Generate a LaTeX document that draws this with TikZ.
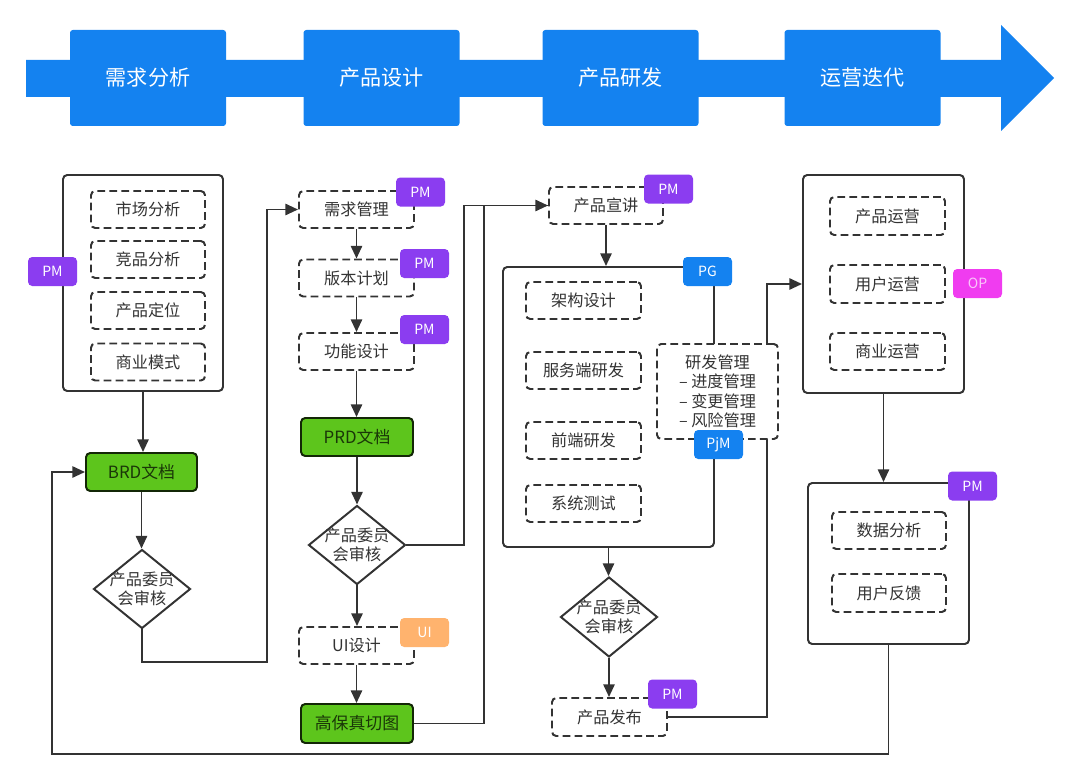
\documentclass[tikz,border=0pt]{standalone}
\usepackage{fontspec}
\setmainfont{Noto Sans CJK SC}
\usetikzlibrary{shapes.geometric,arrows.meta}

\definecolor{flowblue}{HTML}{1482F0}
\definecolor{tagpurple}{HTML}{8B3DF0}
\definecolor{tagpink}{HTML}{F03CF0}
\definecolor{tagorange}{HTML}{FFB36E}
\definecolor{docgreen}{HTML}{5DC51C}
\definecolor{linegray}{HTML}{333333}

\tikzset{
  px/.style 2 args={minimum width=#1*0.025cm, minimum height=#2*0.025cm},
  stage/.style={fill=flowblue, rounded corners=2pt, inner sep=0pt, text=white, font=\fontsize{15}{18}\selectfont},
  group/.style={draw=linegray, line width=1.4pt, rounded corners=3pt, fill=white, inner sep=0pt},
  task/.style={draw=linegray, line width=1.4pt, dash pattern=on 5.5pt off 3pt, rounded corners=3pt, fill=white, inner sep=0pt, text=linegray, font=\fontsize{11.5}{13}\selectfont},
  doc/.style={draw=black!80!docgreen, line width=1.4pt, fill=docgreen, rounded corners=3pt, inner sep=0pt, text=black!72!docgreen, font=\fontsize{12}{14}\selectfont},
  check/.style={diamond, draw=linegray, line width=1.4pt, fill=white, inner sep=0pt, px={97}{79}},
  checktext/.style={align=center, text=linegray, inner sep=0pt, font=\fontsize{11.5}{13.5}\selectfont},
  role/.style={rounded corners=3pt, inner sep=0pt, text=white, font=\fontsize{10}{12}\selectfont, px={49}{29}},
  arr/.style={draw=linegray, line width=1.4pt, -{Triangle[length=9pt,width=8pt]}},
  link/.style={draw=linegray, line width=1.4pt},
}

\begin{document}
\begin{tikzpicture}[x=0.025cm, y=-0.025cm]
\useasboundingbox (0,0) rectangle (1080,782);

% stage banner
\fill[flowblue] (26,60) -- (1001,60) -- (1001,25) -- (1054,78) -- (1001,131) -- (1001,97) -- (26,97) -- cycle;
\node[stage, px={156}{96}] (s1) at (148,78) {需求分析};
\node[stage, px={156}{96}] (s2) at (381.5,78) {产品设计};
\node[stage, px={156}{96}] (s3) at (620.5,78) {产品研发};
\node[stage, px={156}{96}] (s4) at (862.5,78) {运营迭代};

% requirement analysis
\node[group, px={160}{216}] (c1) at (143,283) {};
\node[task, px={114}{37}] (market) at (148,209.5) {市场分析};
\node[task, px={114}{37}] (comp) at (148,259.5) {竞品分析};
\node[task, px={114}{37}] (pos) at (148,310.5) {产品定位};
\node[task, px={114}{37}] (biz) at (148,362) {商业模式};
\node[doc, px={111}{38}] (brd) at (141.5,472) {BRD文档};
\node[check] (d1) at (142,589) {};
\node[checktext] (d1t) at (d1) {产品委员\\会审核};

% product design
\node[task, px={115}{37}] (req) at (356.5,209.5) {需求管理};
\node[task, px={115}{37}] (plan) at (356.5,278) {版本计划};
\node[task, px={115}{37}] (func) at (356.5,351.5) {功能设计};
\node[doc, px={112}{38}] (prd) at (357,437) {PRD文档};
\node[check] (d2) at (357,545) {};
\node[checktext] (d2t) at (d2) {产品委员\\会审核};
\node[task, px={115}{37}] (ui) at (356.5,645.5) {UI设计};
\node[doc, px={112}{39}] (hifi) at (357,723.5) {高保真切图};

% development
\node[task, px={114}{37}] (xj) at (606,205.5) {产品宣讲};
\node[group, px={211}{280}] (dev) at (608.5,407) {};
\node[task, px={115}{37}] (arch) at (583.5,300.5) {架构设计};
\node[task, px={115}{37}] (srv) at (583.5,370.5) {服务端研发};
\node[task, px={115}{37}] (fe) at (583.5,440.5) {前端研发};
\node[task, px={115}{37}] (test) at (583.5,503.5) {系统测试};
\node[check, px={97}{80}] (d3) at (609,617) {};
\node[checktext] (d3t) at (d3) {产品委员\\会审核};
\node[task, px={115}{38}] (rel) at (609.5,717) {产品发布};

% operation
\node[group, px={161}{218}] (ops) at (883.5,284) {};
\node[task, px={115}{38}] (pop) at (887.5,216) {产品运营};
\node[task, px={115}{38}] (uop) at (887.5,284) {用户运营};
\node[task, px={115}{37}] (bop) at (887.5,351.5) {商业运营};
\node[group, px={161}{161}] (data) at (888.5,563.5) {};
\node[task, px={114}{37}] (ana) at (889,530.5) {数据分析};
\node[task, px={114}{38}] (fb) at (889,593) {用户反馈};

% connectors
\coordinate (b1) at (267,662);
\coordinate (b2) at (464,545);
\coordinate (b3) at (484,723);
\coordinate (b4) at (767,717);
\coordinate (b5) at (52,754);
\draw[arr] (c1.south) -- (c1.south |- brd.north);
\draw[arr] (brd.south) -- (brd.south |- d1.north);
\draw[arr] (d1.south) |- (b1) |- (req.west);
\draw[arr] (req) -- (plan);
\draw[arr] (plan) -- (func);
\draw[arr] (func.south) -- (func.south |- prd.north);
\draw[arr] (prd) -- (d2);
\draw[arr] (d2.south) -- (d2.south |- ui.north);
\draw[arr] (ui.south) -- (ui.south |- hifi.north);
\draw[link] (d2.east) -- (d2.east -| b2) |- (xj.west);
\draw[arr] (hifi.east) -- (hifi.east -| b3) |- (xj.west);
\draw[arr] (xj.south) -- (xj.south |- dev.north);
\draw[arr] (dev.south) -- (dev.south |- d3.north);
\draw[arr] (d3.south) -- (d3.south |- rel.north);
\draw[arr] (rel.east) -- (rel.east -| b4) |- (ops.west);
\draw[arr] (ops.south) -- (ops.south |- data.north);
\draw[arr] (data.south) |- (b5) |- (brd.west);

% management box and role tags
\node[task, px={121}{95}, align=center, font=\fontsize{11.5}{13.8}\selectfont] (mgmt) at (717.5,391.5) {研发管理\\– 进度管理\\– 变更管理\\– 风险管理};
\node[role, fill=tagpurple] (pm1) at (52.5,271.5) {PM};
\node[role, fill=tagpurple] (pm2) at (420.5,192) {PM};
\node[role, fill=tagpurple] (pm3) at (424.5,263.5) {PM};
\node[role, fill=tagpurple] (pm4) at (424.5,329.5) {PM};
\node[role, fill=tagorange] (uitag) at (424.5,632.5) {UI};
\node[role, fill=tagpurple] (pm5) at (668.5,189) {PM};
\node[role, fill=flowblue] (pg) at (707.5,271.5) {PG};
\node[role, fill=flowblue] (pjm) at (718.5,444.5) {PjM};
\node[role, fill=tagpurple] (pm6) at (672.5,694) {PM};
\node[role, fill=tagpink, text=white!70!tagpink] (op) at (977.5,283.5) {OP};
\node[role, fill=tagpurple] (pm7) at (972.5,486) {PM};
\end{tikzpicture}
\end{document}
